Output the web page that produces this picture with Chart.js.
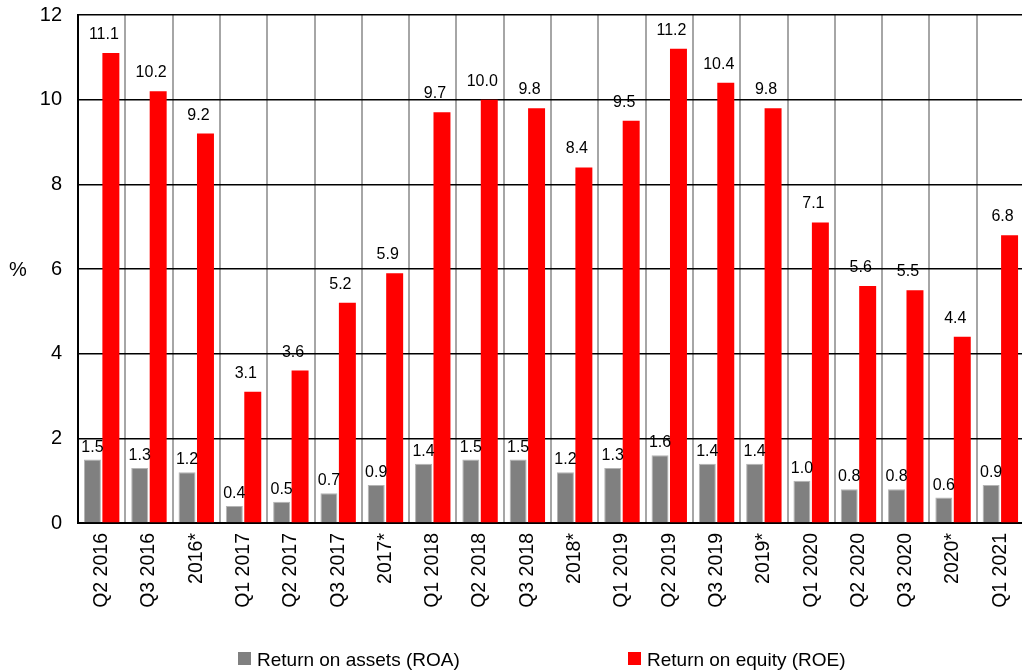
<!DOCTYPE html>
<html>
<head>
<meta charset="utf-8">
<script src="https://cdn.jsdelivr.net/npm/chart.js@4/dist/chart.umd.min.js"></script>
<style>
html,body{margin:0;padding:0;background:#fff;overflow:hidden;}
canvas{display:block;}
</style>
</head>
<body>
<canvas id="c" width="1024" height="671"></canvas>
<script>
const categories = ["Q2 2016","Q3 2016","2016*","Q1 2017","Q2 2017","Q3 2017","2017*","Q1 2018","Q2 2018","Q3 2018","2018*","Q1 2019","Q2 2019","Q3 2019","2019*","Q1 2020","Q2 2020","Q3 2020","2020*","Q1 2021"];
const roa = [1.5,1.3,1.2,0.4,0.5,0.7,0.9,1.4,1.5,1.5,1.2,1.3,1.6,1.4,1.4,1.0,0.8,0.8,0.6,0.9];
const roe = [11.1,10.2,9.2,3.1,3.6,5.2,5.9,9.7,10.0,9.8,8.4,9.5,11.2,10.4,9.8,7.1,5.6,5.5,4.4,6.8];
const seriesNames = ["Return on assets (ROA)","Return on equity (ROE)"];
const yTicks = [0,2,4,6,8,10,12];
const yUnit = "%";

const FONT = "'Liberation Sans', Arial, sans-serif";

const customPlugin = {
  id: 'custom',
  afterDatasetsDraw(chart) {
    const ctx = chart.ctx;
    ctx.save();
    ctx.fillStyle = '#000';
    ctx.font = "16px " + FONT;
    ctx.textAlign = 'center';
    ctx.textBaseline = 'alphabetic';
    chart.data.datasets.forEach((ds, di) => {
      const meta = chart.getDatasetMeta(di);
      meta.data.forEach((bar, i) => {
        const v = ds.data[i];
        const txt = v.toFixed(1);
        if (di === 0) {
          ctx.fillText(txt, bar.x, bar.y - 8);
        } else {
          ctx.fillText(txt, bar.x - 7, bar.y - 14);
        }
      });
    });
    ctx.restore();
  },
  afterDraw(chart) {
    const ctx = chart.ctx;
    const ca = chart.chartArea;
    ctx.save();
    ctx.fillStyle = '#000';
    ctx.font = "20px " + FONT;
    ctx.textAlign = 'center';
    ctx.textBaseline = 'middle';
    ctx.fillText(yUnit, 18, (ca.top + ca.bottom) / 2 + 1);
    ctx.font = "19px " + FONT;
    ctx.textAlign = 'left';
    ctx.textBaseline = 'alphabetic';
    const positions = [238, 628];
    chart.data.datasets.forEach((ds, di) => {
      const x = positions[di];
      ctx.fillStyle = ds.backgroundColor;
      ctx.fillRect(x, 652, 13, 13);
      ctx.fillStyle = '#000';
      ctx.fillText(ds.label, x + 19, 666);
    });
    ctx.restore();
  }
};

new Chart(document.getElementById('c'), {
  type: 'bar',
  data: {
    labels: categories,
    datasets: [
      { label: seriesNames[0], data: roa, backgroundColor: '#808080', borderColor: '#b4b4b4', borderWidth: 1,
        categoryPercentage: 0.78, barPercentage: 0.92 },
      { label: seriesNames[1], data: roe, backgroundColor: '#ff0000', borderWidth: 0,
        categoryPercentage: 0.78, barPercentage: 0.92 }
    ]
  },
  options: {
    responsive: false,
    animation: false,
    layout: { padding: 0 },
    plugins: { legend: { display: false }, tooltip: { enabled: false } },
    scales: {
      x: {
        grid: { display: true, offset: true, color: '#a6a6a6', lineWidth: 2, drawTicks: false },
        border: { display: true, color: '#000', width: 2 },
        ticks: { color: '#000', font: { family: FONT, size: 19.5 }, minRotation: 90, maxRotation: 90, padding: 10, autoSkip: false },
        afterFit: s => { s.height = 148; s.paddingLeft = 0; s.paddingRight = 0; }
      },
      y: {
        min: 0, max: 12,
        afterBuildTicks: s => { s.ticks = yTicks.map(v => ({ value: v })); },
        grid: { color: '#000', lineWidth: 1.6, drawTicks: false },
        border: { display: true, color: '#000', width: 2 },
        ticks: { color: '#000', font: { family: FONT, size: 20 }, padding: 16 },
        afterFit: s => { s.width = 78; s.paddingTop = 15; s.paddingBottom = 0; }
      }
    }
  },
  plugins: [customPlugin]
});
</script>
</body>
</html>
